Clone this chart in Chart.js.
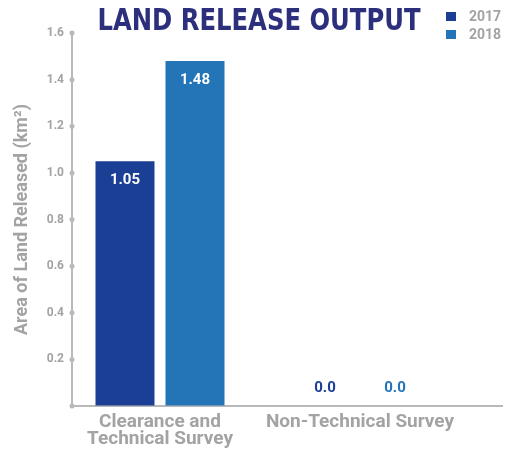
<!DOCTYPE html>
<html>
<head>
<meta charset="utf-8">
<script src="https://cdn.jsdelivr.net/npm/chart.js@4"></script>
<style>
  body { margin: 0; background: #fff; }
  #wrap { position: relative; width: 505px; height: 453px; }
  #title {
    position: absolute; left: 59px; top: 2px; width: 400px; text-align: center;
    font: bold 30px "DejaVu Sans Condensed", "DejaVu Sans", sans-serif;
    color: #2b2f7c; transform: scaleX(0.9); transform-origin: 50% 0; white-space: nowrap;
  }
  #legend { position: absolute; left: 446px; top: 7px; font: bold 14px Roboto, sans-serif; color: #a3a3a3; }
  #legend div { height: 18px; line-height: 18px; white-space: nowrap; }
  #legend span.sw { display: inline-block; width: 10px; height: 9px; margin-right: 13px; vertical-align: 0px; }
</style>
</head>
<body>
<div id="wrap">
  <canvas id="landChart" width="505" height="453"></canvas>
  <div id="title"></div>
  <div id="legend"></div>
</div>
<script>
const chartTitle = 'LAND RELEASE OUTPUT';
const yAxisTitle = 'Area of Land Released (km²)';
const categories = [['Clearance and', 'Technical Survey'], 'Non-Technical Survey'];
const years = ['2017', '2018'];
const released2017 = [1.05, 0.0];
const released2018 = [1.48, 0.0];
const yearColors = ['#1a3f94', '#2474b8'];

const grey = '#a3a3a3';
const axisGrey = '#b9b9b9';

function toPoints(values) {
  return values.map((v, i) => ({ x: i, y: v }));
}

document.getElementById('title').textContent = chartTitle;

// value labels drawn on the bars
const barLabels = {
  id: 'barLabels',
  afterDatasetsDraw(chart) {
    const ctx = chart.ctx;
    ctx.save();
    ctx.font = 'bold 15px Roboto, sans-serif';
    ctx.textAlign = 'center';
    ctx.textBaseline = 'middle';
    chart.data.datasets.forEach((ds, di) => {
      chart.getDatasetMeta(di).data.forEach((bar, i) => {
        const v = ds.data[i].y;
        if (v > 0) {
          ctx.fillStyle = '#fff';
          ctx.fillText(v.toFixed(2), bar.x, bar.y + 19);
        } else {
          ctx.fillStyle = ds.backgroundColor;
          ctx.fillText(v.toFixed(1), bar.x, bar.base - 18);
        }
      });
    });
    ctx.restore();
  }
};

// little dots on the y axis at each tick
const tickDots = {
  id: 'tickDots',
  afterDraw(chart) {
    const ctx = chart.ctx;
    const y = chart.scales.y;
    ctx.save();
    ctx.fillStyle = axisGrey;
    y.ticks.forEach(t => {
      ctx.beginPath();
      ctx.arc(chart.chartArea.left, y.getPixelForValue(t.value), 2.5, 0, Math.PI * 2);
      ctx.fill();
    });
    ctx.restore();
  }
};

const chart = new Chart(document.getElementById('landChart'), {
  type: 'bar',
  data: {
    datasets: [
      { label: years[0], data: toPoints(released2017), backgroundColor: yearColors[0] },
      { label: years[1], data: toPoints(released2018), backgroundColor: yearColors[1] },
    ]
  },
  options: {
    responsive: false,
    animation: false,
    categoryPercentage: 0.7,
    barPercentage: 0.843,
    layout: { padding: { top: 33, right: 3, left: 0, bottom: 0 } },
    plugins: { legend: { display: false }, tooltip: { enabled: false } },
    scales: {
      x: {
        type: 'linear',
        offset: false,
        min: -0.44,
        max: 1.71,
        afterBuildTicks: s => { s.ticks = categories.map((c, i) => ({ value: i })); },
        afterFit: s => { s.height = 47; },
        grid: { display: true, drawOnChartArea: false, drawTicks: false },
        border: { display: true, color: axisGrey, width: 2 },
        ticks: {
          autoSkip: false, maxRotation: 0, padding: 8,
          color: grey, font: { family: 'Roboto', size: 19, weight: 'bold', lineHeight: 0.9 },
          callback: v => categories[v]
        }
      },
      y: {
        min: 0,
        max: 1.6,
        afterFit: s => { s.width = 72; },
        grid: { display: true, drawOnChartArea: false, drawTicks: false },
        border: { display: true, color: axisGrey, width: 2 },
        ticks: {
          stepSize: 0.2, padding: 8,
          color: grey, font: { family: 'Roboto', size: 12, weight: 'bold' },
          callback: v => (v === 0 ? '' : v.toFixed(1))
        },
        title: {
          display: true, text: yAxisTitle, color: grey,
          font: { family: 'Roboto', size: 18, weight: 'bold' },
          padding: { top: 12, bottom: 0 }
        }
      }
    }
  },
  plugins: [barLabels, tickDots]
});

// legend from the datasets
const legend = document.getElementById('legend');
chart.data.datasets.forEach(ds => {
  const row = document.createElement('div');
  const sw = document.createElement('span');
  sw.className = 'sw';
  sw.style.background = ds.backgroundColor;
  row.appendChild(sw);
  row.appendChild(document.createTextNode(ds.label));
  legend.appendChild(row);
});
</script>
</body>
</html>
